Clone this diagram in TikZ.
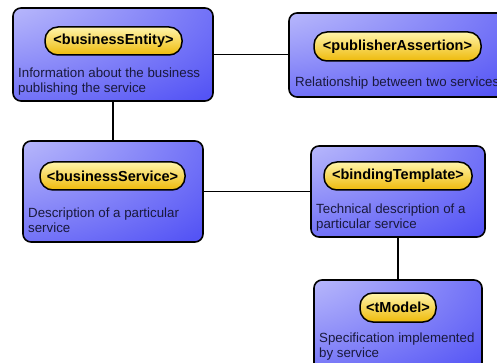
\documentclass[tikz,border=0pt]{standalone}
\usepackage{fontspec}
\setmainfont{Liberation Sans}
\definecolor{bblue}{RGB}{84,84,245}
\definecolor{blight}{RGB}{248,248,255}
\definecolor{ylight}{RGB}{255,244,170}
\definecolor{ydark}{RGB}{238,186,10}
\definecolor{txtblue}{RGB}{25,25,60}
\pgfdeclareradialshading{boxshade}{\pgfpoint{-50bp}{50bp}}{color(0bp)=(blight); color(20bp)=(blight!65!bblue); color(70bp)=(bblue); color(150bp)=(bblue)}
\tikzset{
  box/.style={draw=black, line width=1.6pt, rounded corners=8pt, shading=boxshade, inner sep=0pt},
  pill/.style={draw=black, line width=1.5pt, rounded corners=13pt, top color=ylight, bottom color=ydark, inner sep=0pt, font=\fontsize{14.5}{17}\selectfont\bfseries, text=black},
  desc/.style={anchor=base west, inner sep=0pt, align=left, text=txtblue, font=\fontsize{13.3}{15.5}\selectfont},
  link/.style={draw=black, line width=1.6pt}
}
\begin{document}
\begin{tikzpicture}[x=1pt,y=-1pt]
\useasboundingbox (0,0) rectangle (497,363);
\clip (0,0) rectangle (497,363);
% boxes
\node[box, minimum width=200pt, minimum height=93pt] (be) at (113,54.5) {};
\node[box, minimum width=221pt, minimum height=84pt] (pa) at (399.5,55) {};
\node[box, minimum width=180pt, minimum height=101pt] (bs) at (113,191.5) {};
\node[box, minimum width=174pt, minimum height=91pt] (bt) at (398,191.5) {};
\node[box, minimum width=168pt, minimum height=95pt] (tm) at (398,327.5) {};
% connectors
\draw[link] (be.east) -- (be.east -| pa.west);
\draw[link] (be.south) -- (bs.north);
\draw[link] (bs.east) -- (bt.west);
\draw[link] (bt.south) -- (tm.north);
% pills
\node[pill, minimum width=137pt, minimum height=28pt] (bep) at (113.5,41) {<businessEntity>};
\node[pill, minimum width=167pt, minimum height=29pt] (pap) at (397.5,46.5) {<publisherAssertion>};
\node[pill, minimum width=145pt, minimum height=28pt] (bsp) at (112.5,176) {<businessService>};
\node[pill, minimum width=148pt, minimum height=28pt] (btp) at (398,176) {<bindingTemplate>};
\node[pill, minimum width=76pt, minimum height=29pt] (tmp) at (398,307.5) {<tModel>};
% descriptions (base anchor = last line baseline)
\node[desc] (bet) at (18,93) {Information about the business\\publishing the service};
\node[desc] (pat) at (295,87) {Relationship between two services};
\node[desc] (bst) at (28,232.5) {Description of a particular\\service};
\node[desc] (btt) at (316,228.5) {Technical description of a\\particular service};
\node[desc] (tmt) at (319,357.5) {Specification implemented\\by service};
\end{tikzpicture}
\end{document}
